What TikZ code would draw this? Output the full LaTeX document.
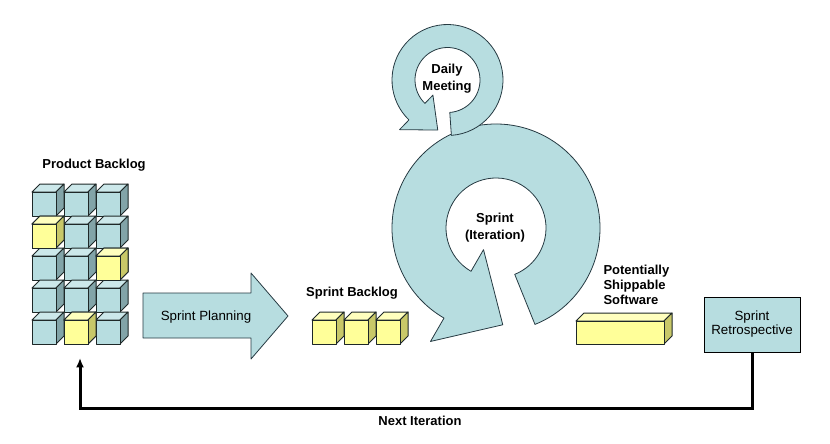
\documentclass[tikz,border=0pt]{standalone}
\usepackage{fontspec}
\setmainfont{Liberation Sans}
\usetikzlibrary{arrows.meta,calc}

\definecolor{ringfill}{RGB}{183,221,224}
\definecolor{ringline}{RGB}{38,58,66}
\definecolor{cubeedge}{RGB}{30,40,40}
\definecolor{bluefront}{RGB}{183,221,224}
\definecolor{bluetop}{RGB}{204,232,234}
\definecolor{blueside}{RGB}{130,164,168}
\definecolor{yelfront}{RGB}{255,255,153}
\definecolor{yeltop}{RGB}{255,255,190}
\definecolor{yelside}{RGB}{200,200,104}

% x, y, width, height, depth, colour
\newcommand{\blockcube}[6]{%
  \draw[cubeline, fill=#6top] (#1,#2) -- ++(#5,-#5) -- ++(#3,0) -- ++(-#5,#5) -- cycle;
  \draw[cubeline, fill=#6side] (#1+#3,#2) -- ++(#5,-#5) -- ++(0,#4) -- ++(-#5,#5) -- cycle;
  \draw[cubeline, fill=#6front] (#1,#2) rectangle ++(#3,#4);
}

\tikzset{every picture/.style={line width=0.75pt}}

\begin{document}
\begin{tikzpicture}[x=0.75pt,y=0.75pt,yscale=-1,xscale=1,
  cubeline/.style={draw=cubeedge, line width=0.75pt, line join=round},
  ring/.style={draw=ringline, fill=ringfill, line width=0.6pt, line join=round},
  boldlabel/.style={font=\fontsize{9.75}{12.75}\selectfont\bfseries, inner sep=0.75pt},
  plainlabel/.style={font=\fontsize{10}{10.5}\selectfont, inner sep=0.75pt},
  looparrow/.style={line width=2.25pt, -{Latex[length=7pt,width=6pt]}}]
\path[use as bounding box] (0,0) rectangle (830,443);

%Shape: Product Backlog cubes
\foreach \row in {0,...,4} {
  \foreach \col in {0,1,2} {
    \blockcube{32+32*\col}{192+32*\row}{24}{24}{8}{blue}
  }
}
\blockcube{32}{224}{24}{24}{8}{yel}
\blockcube{96}{256}{24}{24}{8}{yel}
\blockcube{64}{320}{24}{24}{8}{yel}

%Shape: Sprint Backlog cubes
\foreach \col in {0,1,2} {
  \blockcube{312+32*\col}{320}{24}{24}{8}{yel}
}

%Shape: Potentially Shippable Software bar
\blockcube{576}{321}{88}{23}{8}{yel}

%Shape: Sprint Planning arrow
\draw[ring] (143,293) -- (251,293) -- (251,273) -- (288,316) -- (251,359) -- (251,338) -- (143,338) -- cycle;

%Shape: Sprint circular arrow
\coordinate (sc) at (496,228);
\draw[ring] ($(sc)+(68:104)$) arc[start angle=68, end angle=-240, radius=104]
  -- ($(sc)+(120:131)$) -- ($(sc)+(86:97)$) -- ($(sc)+(120:25)$) -- ($(sc)+(120:50)$)
  arc[start angle=120, end angle=428, radius=50] -- cycle;

%Shape: Daily Meeting circular arrow
\coordinate (dc) at (447.5,80);
\draw[ring] ($(dc)+(86:55.5)$) arc[start angle=86, end angle=-226, radius=55.5]
  -- ($(dc)+(134:69)$) -- ($(dc)+(101:51)$) -- ($(dc)+(134:21)$) -- ($(dc)+(134:32.5)$)
  arc[start angle=134, end angle=446, radius=32.5] -- cycle;

% Text Node
\node[boldlabel] (pbacklog) at (94,165) {Product Backlog};
% Text Node
\node[plainlabel] (planning) at (206,317) {Sprint Planning};
% Text Node
\node[boldlabel] (sbacklog) at (352,293) {Sprint Backlog};
% Text Node
\node[boldlabel, align=center] (daily) at (447,79) {Daily\\Meeting};
% Text Node
\node[boldlabel, align=center] (sprint) at (495,228) {Sprint\\(Iteration)};
% Text Node
\node[boldlabel, align=left, anchor=west, font=\fontsize{9.75}{11}\selectfont\bfseries] (software) at (602,285) {Potentially\\Shippable\\Software};
% Text Node
\node[plainlabel, align=center, draw=black, line width=0.75pt, fill=ringfill,
  minimum width=72pt, minimum height=41.25pt] (retro) at (752,324.5) {Sprint\\Retrospective};
% Text Node
\node[boldlabel] (next) at (420,421) {Next Iteration};

%Straight Lines: Next Iteration loop
\coordinate (pbtip) at (80,358);
\draw[looparrow] (retro.south) -- ++(0,56) -| (pbtip);

\end{tikzpicture}
\end{document}
